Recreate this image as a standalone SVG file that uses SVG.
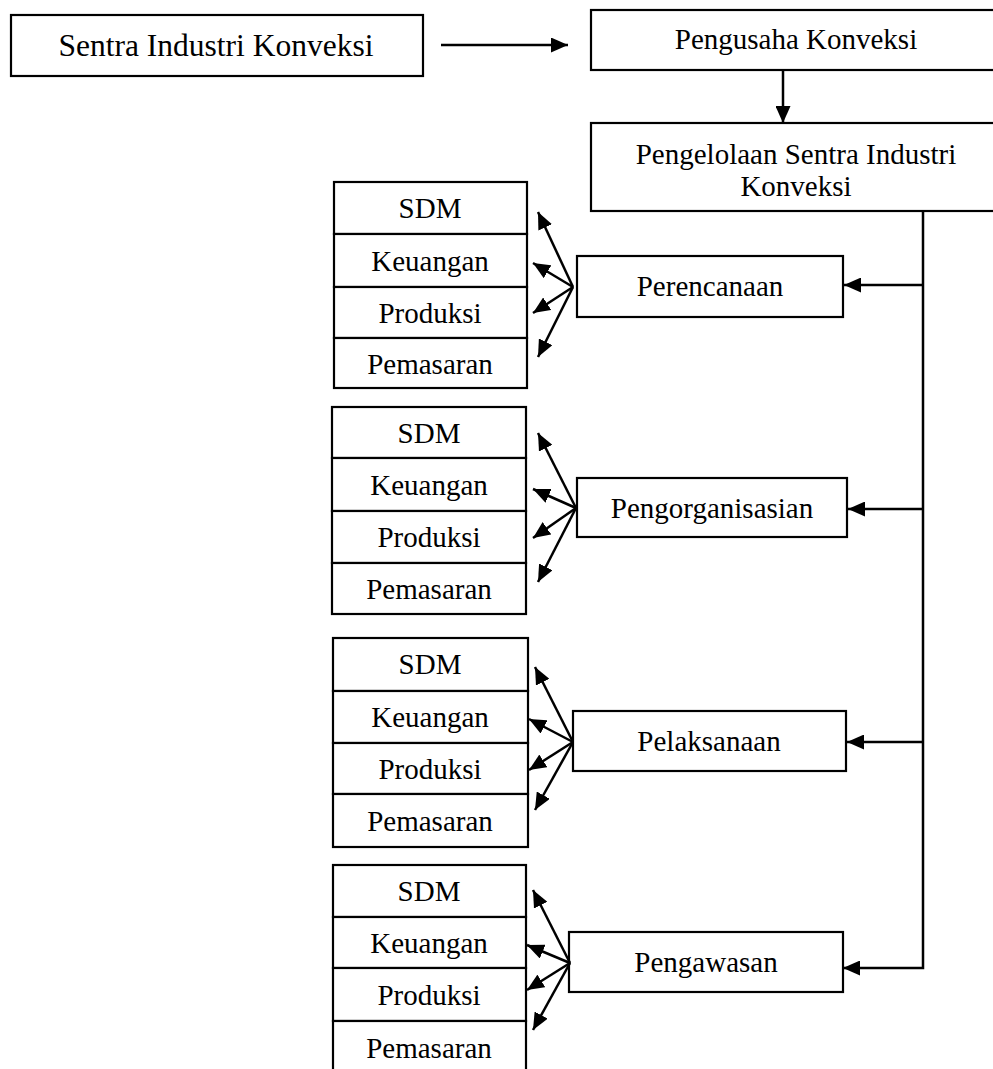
<svg xmlns="http://www.w3.org/2000/svg" width="993" height="1069" viewBox="0 0 993 1069">
<style>
.box{fill:#fff;stroke:#000;stroke-width:2.2}
.t{font-family:"Liberation Serif","Times New Roman",serif;font-size:29px;fill:#000;text-anchor:middle}
.c{fill:none;stroke:#000;stroke-width:2.5}
</style>
<defs>
<marker id="ah" viewBox="0 0 17 15" refX="17" refY="7.5" markerWidth="17" markerHeight="15" markerUnits="userSpaceOnUse" orient="auto">
<path d="M0,0 L17,7.5 L0,15 z" fill="#000"/>
</marker>
</defs>
<rect width="993" height="1069" fill="#fff"/>
<g id="sentra"><rect class="box" x="11" y="15" width="412" height="61"/><text class="t" x="216" y="56" style="font-size:31.5px">Sentra Industri Konveksi</text></g>
<g id="pengusaha"><rect class="box" x="591" y="10" width="420" height="60"/><text class="t" x="796" y="49">Pengusaha Konveksi</text></g>
<g id="pengelolaan"><rect class="box" x="591" y="123" width="420" height="88"/><text class="t" x="796" y="164">Pengelolaan Sentra Industri</text><text class="t" x="796" y="196">Konveksi</text></g>
<g id="perencanaan"><rect class="box" x="577" y="256" width="266" height="61"/><text class="t" x="710" y="296">Perencanaan</text></g>
<g id="pengorganisasian"><rect class="box" x="577" y="478" width="270" height="59"/><text class="t" x="712" y="518">Pengorganisasian</text></g>
<g id="pelaksanaan"><rect class="box" x="573" y="711" width="273" height="60"/><text class="t" x="709" y="751">Pelaksanaan</text></g>
<g id="pengawasan"><rect class="box" x="569" y="932" width="274" height="60"/><text class="t" x="706" y="972">Pengawasan</text></g>
<g id="stack1">
<rect class="box" x="334" y="182" width="193" height="52"/><text class="t" x="430" y="218">SDM</text>
<rect class="box" x="334" y="234" width="193" height="53"/><text class="t" x="430" y="271">Keuangan</text>
<rect class="box" x="334" y="287" width="193" height="51"/><text class="t" x="430" y="323">Produksi</text>
<rect class="box" x="334" y="338" width="193" height="50"/><text class="t" x="430" y="374">Pemasaran</text>
</g>
<g id="stack2">
<rect class="box" x="332" y="407" width="194" height="51"/><text class="t" x="429" y="443">SDM</text>
<rect class="box" x="332" y="458" width="194" height="53"/><text class="t" x="429" y="495">Keuangan</text>
<rect class="box" x="332" y="511" width="194" height="52"/><text class="t" x="429" y="547">Produksi</text>
<rect class="box" x="332" y="563" width="194" height="51"/><text class="t" x="429" y="599">Pemasaran</text>
</g>
<g id="stack3">
<rect class="box" x="333" y="638" width="195" height="53"/><text class="t" x="430" y="674">SDM</text>
<rect class="box" x="333" y="691" width="195" height="52"/><text class="t" x="430" y="727">Keuangan</text>
<rect class="box" x="333" y="743" width="195" height="51"/><text class="t" x="430" y="779">Produksi</text>
<rect class="box" x="333" y="794" width="195" height="53"/><text class="t" x="430" y="831">Pemasaran</text>
</g>
<g id="stack4">
<rect class="box" x="333" y="865" width="193" height="52"/><text class="t" x="429" y="901">SDM</text>
<rect class="box" x="333" y="917" width="193" height="51"/><text class="t" x="429" y="953">Keuangan</text>
<rect class="box" x="333" y="968" width="193" height="53"/><text class="t" x="429" y="1005">Produksi</text>
<rect class="box" x="333" y="1021" width="193" height="60"/><text class="t" x="429" y="1058">Pemasaran</text>
</g>
<g id="connectors">
<line class="c" x1="441" y1="45" x2="568" y2="45" marker-end="url(#ah)"/>
<line class="c" x1="783" y1="70" x2="783" y2="123" marker-end="url(#ah)"/>
<polyline class="c" points="923,211 923,968 843,968" marker-end="url(#ah)"/>
<line class="c" x1="923" y1="285" x2="844" y2="285" marker-end="url(#ah)"/>
<line class="c" x1="923" y1="509" x2="848" y2="509" marker-end="url(#ah)"/>
<line class="c" x1="923" y1="742" x2="847" y2="742" marker-end="url(#ah)"/>
<line class="c" x1="573" y1="287" x2="538" y2="212" marker-end="url(#ah)"/>
<line class="c" x1="573" y1="287" x2="533" y2="263" marker-end="url(#ah)"/>
<line class="c" x1="573" y1="287" x2="533" y2="313" marker-end="url(#ah)"/>
<line class="c" x1="573" y1="287" x2="538" y2="357" marker-end="url(#ah)"/>
<line class="c" x1="576" y1="508" x2="538" y2="433" marker-end="url(#ah)"/>
<line class="c" x1="576" y1="508" x2="533" y2="489" marker-end="url(#ah)"/>
<line class="c" x1="576" y1="508" x2="533" y2="538" marker-end="url(#ah)"/>
<line class="c" x1="576" y1="508" x2="538" y2="582" marker-end="url(#ah)"/>
<line class="c" x1="573" y1="742" x2="535" y2="667" marker-end="url(#ah)"/>
<line class="c" x1="573" y1="742" x2="529" y2="719" marker-end="url(#ah)"/>
<line class="c" x1="573" y1="742" x2="529" y2="770" marker-end="url(#ah)"/>
<line class="c" x1="573" y1="742" x2="535" y2="810" marker-end="url(#ah)"/>
<line class="c" x1="570" y1="963" x2="533" y2="890" marker-end="url(#ah)"/>
<line class="c" x1="570" y1="963" x2="527" y2="945" marker-end="url(#ah)"/>
<line class="c" x1="570" y1="963" x2="527" y2="990" marker-end="url(#ah)"/>
<line class="c" x1="570" y1="963" x2="533" y2="1030" marker-end="url(#ah)"/>
</g>
</svg>
